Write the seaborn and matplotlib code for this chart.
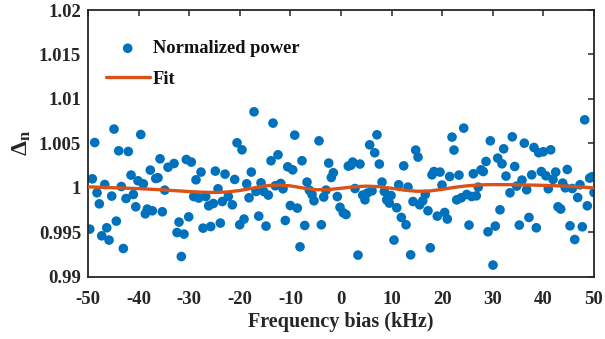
import numpy as np
import pandas as pd
import matplotlib
matplotlib.use("Agg")
import matplotlib.pyplot as plt
import seaborn as sns

# ---- data ----
freq_khz = [-49.66, -49.15, -48.68, -48.22, -47.77, -47.29, -46.70, -46.30, -45.85, -45.32,
            -44.86, -44.41, -43.93, -43.42, -43.02, -42.49, -42.04, -41.50, -41.05, -40.57,
            -40.12, -39.58, -39.07, -38.68, -38.28, -37.69, -37.29, -36.62, -36.17, -35.77,
            -35.32, -34.84, -34.19, -33.00, -32.41, -32.02, -31.56, -31.03, -30.57, -30.10,
            -29.58, -29.11, -28.66, -28.12, -27.67, -27.27, -26.74, -26.15, -25.75, -25.24,
            -24.84, -24.31, -23.85, -23.46, -22.92, -22.27, -21.48, -21.01, -20.55, -20.02,
            -19.57, -19.17, -18.64, -18.18, -17.73, -17.19, -16.80, -16.26, -15.81, -15.28,
            -14.82, -14.37, -13.83, -13.44, -12.98, -12.45, -11.92, -11.46, -11.01, -10.53,
            -10.02, -9.55, -9.15, -8.64, -8.10, -7.71, -7.17, -6.72, -6.26, -5.73,
            -5.34, -4.35, -3.89, -3.42, -2.96, -2.43, -1.92, -1.52, -0.73, -0.20,
            0.45, 0.99, 1.44, 1.98, 2.31, 2.77, 3.36, 3.75, 4.29, 4.74,
            5.20, 5.67, 6.13, 6.66, 7.11, 7.57, 8.10, 8.56, 9.03, 9.55,
            9.88, 10.47, 11.01, 11.40, 11.92, 12.39, 12.85, 13.24, 13.77, 14.23,
            14.76, 15.22, 15.55, 16.15, 16.66, 17.19, 17.65, 17.98, 18.38, 19.03,
            19.57, 19.96, 20.49, 21.01, 21.48, 21.94, 22.33, 22.87, 23.32, 23.78,
            24.25, 24.84, 25.30, 25.83, 26.15, 26.74, 27.13, 27.67, 28.12, 28.66,
            29.05, 29.51, 30.04, 30.49, 30.97, 31.42, 31.82, 32.15, 32.61, 33.40,
            33.85, 34.33, 34.72, 35.24, 35.77, 36.23, 36.70, 37.15, 37.69, 38.14,
            38.60, 39.07, 39.59, 39.98, 40.51, 40.97, 41.44, 41.90, 42.43, 42.89,
            43.42, 43.81, 44.33, 44.72, 45.26, 45.71, 46.19, 46.78, 47.23, 47.69,
            48.16, 48.68, 49.15, 49.60, 50.00]

power_norm = [0.99538, 1.00103, 1.00511, 0.99946, 0.99822, 0.99463, 1.00039, 0.99553, 0.99415, 0.99909,
              1.00662, 0.99628, 1.00418, 1.00017, 0.99320, 0.99882, 1.00410, 1.00145, 0.99927, 0.99789,
              1.00081, 1.00601, 1.00047, 0.99710, 0.99763, 1.00201, 0.99744, 1.00107, 1.00115, 1.00328,
              0.99733, 0.99976, 1.00233, 1.00275, 0.99500, 0.99617, 0.99230, 0.99482, 1.00320, 0.99676,
              1.00291, 0.99904, 1.00092, 0.99887, 1.00179, 0.99549, 0.99904, 0.99800, 0.99567, 0.99826,
              1.00190, 0.99991, 0.99606, 0.99848, 1.00156, 0.99904, 0.99811, 1.00096, 1.00508, 0.99587,
              1.00429, 0.99651, 1.00047, 0.99890, 1.00179, 1.00856, 0.99961, 0.99684, 1.00058, 0.99961,
              0.99572, 0.99920, 1.00306, 1.00729, 1.00025, 1.00373, 1.00051, 0.99991, 0.99635, 1.00238,
              0.99803, 1.00204, 1.00594, 0.99774, 0.99339, 1.00306, 0.99579, 1.00066, 0.99976, 0.99927,
              0.99856, 1.00530, 0.99587, 0.99898, 0.99976, 1.00280, 1.00118, 1.00171, 0.99904, 0.99783,
              0.99721, 0.99702, 1.00246, 1.00257, 1.00291, 0.99994, 0.99246, 1.00269, 0.99920, 0.99867,
              0.99943, 1.00485, 0.99969, 1.00396, 1.00598, 1.00269, 1.00066, 0.99961, 0.99867, 0.99830,
              0.99916, 0.99415, 0.99778, 1.00036, 0.99669, 1.00249, 0.99587, 1.00010, 0.99249, 0.99848,
              1.00426, 1.00347, 0.99811, 0.99856, 0.99927, 0.99744, 0.99328, 1.00148, 1.00185, 0.99684,
              1.00179, 1.00033, 0.99725, 0.99651, 1.00129, 1.00572, 1.00426, 0.99867, 1.00145, 0.99890,
              1.00673, 0.99927, 0.99583, 0.99904, 1.00160, 0.99912, 1.00010, 1.00204, 1.00185, 1.00298,
              0.99508, 1.00530, 0.99134, 0.99572, 1.00336, 0.99755, 1.00272, 1.00440, 1.00134, 0.99946,
              1.00575, 1.00242, 1.00021, 0.99583, 1.00089, 1.00504, 0.99980, 0.99669, 1.00148, 1.00455,
              0.99553, 1.00396, 1.00185, 1.00407, 1.00137, 0.99991, 1.00429, 1.00096, 1.00179, 0.99789,
              0.99763, 1.00055, 1.00002, 1.00208, 0.99575, 0.99994, 0.99421, 0.99893, 1.00036, 0.99564,
              1.00766, 0.99800, 1.00111, 1.00126, 0.99949]

fit_x = [-50, -47.5, -45, -42.5, -40, -37.5, -35, -32.5, -30, -27.5, -25, -22.5, -20, -17.5,
         -15, -12.5, -10, -7.5, -5, -2.5, 0, 2.5, 5, 7.5, 10, 12.5, 15, 17.5, 20, 22.5,
         25, 27.5, 30, 32.5, 35, 37.5, 40, 42.5, 45, 47.5, 50]
fit_y = [1.00013, 1.00008, 1.00003, 0.99998, 0.99993, 0.99986, 0.99978, 0.99969, 0.99960, 0.99953,
         0.99950, 0.99955, 0.99972, 0.99998, 1.00024, 1.00034, 1.00024, 1.00000, 0.99981, 0.99982,
         0.99997, 1.00013, 1.00021, 1.00015, 0.99997, 0.99976, 0.99963, 0.99966, 0.99985, 1.00008,
         1.00025, 1.00035, 1.00038, 1.00038, 1.00036, 1.00033, 1.00030, 1.00025, 1.00019, 1.00011,
         1.00002]

x_ticks = [-50, -40, -30, -20, -10, 0, 10, 20, 30, 40, 50]
y_ticks = [0.99, 0.995, 1.0, 1.005, 1.01, 1.015, 1.02]
y_tick_labels = ["0.99", "0.995", "1", "1.005", "1.01", "1.015", "1.02"]

# ---- plotting ----
sns.set_theme(style="white")
plt.rcParams["font.family"] = ["Liberation Serif", "DejaVu Serif"]
plt.rcParams["font.weight"] = "bold"
plt.rcParams["mathtext.fontset"] = "custom"
plt.rcParams["mathtext.rm"] = "Liberation Serif:bold"
plt.rcParams["mathtext.it"] = "Liberation Serif:bold"
plt.rcParams["mathtext.bf"] = "Liberation Serif:bold"

fig = plt.figure(figsize=(6.05, 3.39), dpi=100)
ax = fig.add_axes([0.1455, 0.1829, 0.8363, 0.7876])

df_pts = pd.DataFrame({"f": freq_khz, "p": power_norm})
df_fit = pd.DataFrame({"f": fit_x, "p": fit_y})

sns.scatterplot(data=df_pts, x="f", y="p", ax=ax, color="#0072BD", s=48,
                edgecolor="none", linewidth=0, label="Normalized power", zorder=2)
sns.lineplot(data=df_fit, x="f", y="p", ax=ax, color="#D95319", linewidth=2.4,
             label="Fit", zorder=3)

ax.set_xlim(-50, 50)
ax.set_ylim(0.99, 1.02)
ax.set_xticks(x_ticks)
ax.set_xticklabels([str(t) for t in x_ticks])
ax.set_yticks(y_ticks)
ax.set_yticklabels(y_tick_labels)

for sp in ax.spines.values():
    sp.set_visible(True)
    sp.set_color("#262626")
    sp.set_linewidth(1.3)

ax.tick_params(axis="both", which="major", direction="in", length=4.5, width=1.1,
               color="#262626", top=True, right=True, labelsize=13.5,
               labelcolor="#262626")
ax.tick_params(axis="x", pad=10)
ax.tick_params(axis="y", pad=5)
for lab in ax.get_xticklabels() + ax.get_yticklabels():
    lab.set_fontweight("bold")

ax.set_xlabel("Frequency bias (kHz)", fontsize=14.5, fontweight="bold",
              color="#262626", labelpad=3)
ax.set_ylabel(r"$\Delta_\mathrm{n}$", fontsize=17, color="#262626", labelpad=4)

leg = ax.legend(loc="upper left", bbox_to_anchor=(0.02, 0.915), frameon=False,
                fontsize=13.3, handlelength=2.4, handletextpad=0.15,
                labelspacing=0.75, borderaxespad=0.0)
for t in leg.get_texts():
    t.set_fontweight("bold")
    t.set_color("#111111")

fig.savefig("out.png", dpi=100, facecolor="white")
